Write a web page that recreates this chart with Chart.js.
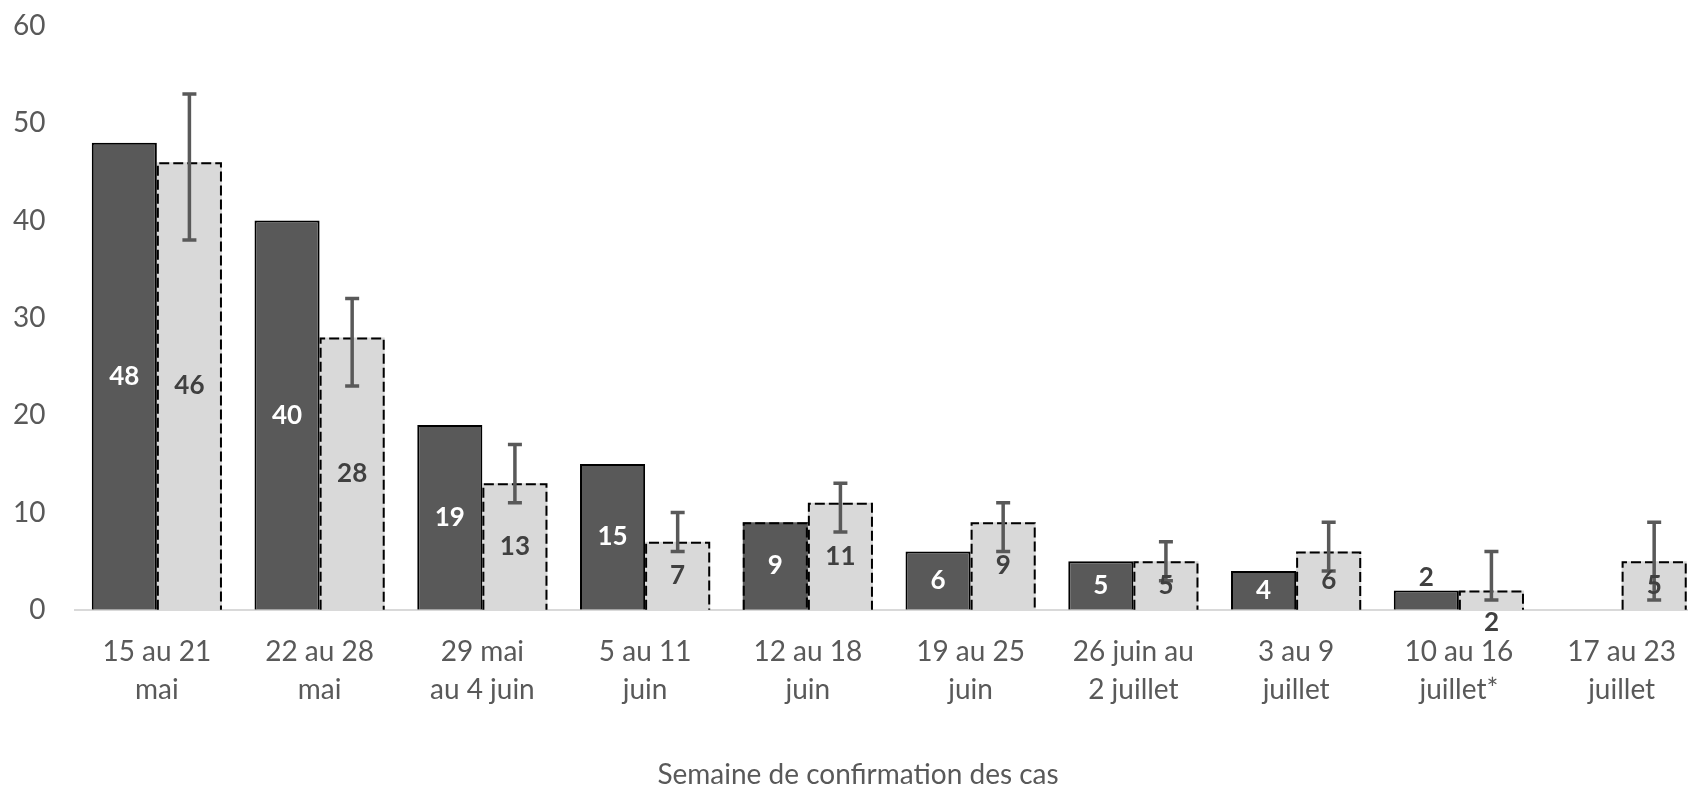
<!DOCTYPE html>
<html lang="fr">
<head>
<meta charset="utf-8">
<title>Semaine de confirmation des cas</title>
<script src="https://cdn.jsdelivr.net/npm/chart.js@4.4.1/dist/chart.umd.min.js"></script>
<style>
  html, body { margin: 0; padding: 0; background: #ffffff; overflow: hidden; }
  #wrap { position: relative; width: 1703px; height: 789px; }
</style>
</head>
<body>
<div id="wrap"><canvas id="chart1"></canvas></div>
<script>
// semaines (deux lignes par étiquette)
var semaines = [
  ['15 au 21', 'mai'],
  ['22 au 28', 'mai'],
  ['29 mai', 'au 4 juin'],
  ['5 au 11', 'juin'],
  ['12 au 18', 'juin'],
  ['19 au 25', 'juin'],
  ['26 juin au', '2 juillet'],
  ['3 au 9', 'juillet'],
  ['10 au 16', 'juillet*'],
  ['17 au 23', 'juillet']
];
var casConfirmes = [48, 40, 19, 15, 9, 6, 5, 4, 2, null];
var casEstimes   = [46, 28, 13, 7, 11, 9, 5, 6, 2, 5];
var estimesBas   = [38, 23, 11, 6, 8, 6, 3, 4, 1, 1];
var estimesHaut  = [53, 32, 17, 10, 13, 11, 7, 9, 6, 9];
var yTicks = [0, 10, 20, 30, 40, 50, 60];
var titreX = 'Semaine de confirmation des cas';

var gris = '#595959';
var police = 'Lato';

// contours pointillés, barres d'erreur et étiquettes
var barExtras = {
  id: 'barExtras',
  afterDatasetsDraw: function (chart) {
    var ctx = chart.ctx;
    var yScale = chart.scales.y;

    ctx.save();
    // contours pointillés
    chart.data.datasets.forEach(function (ds, di) {
      var meta = chart.getDatasetMeta(di);
      meta.data.forEach(function (bar, i) {
        if (ds.data[i] == null) return;
        var dashed = di === 1 || (ds.dashedPoints && ds.dashedPoints.indexOf(i) >= 0);
        if (!dashed) return;
        var p = bar.getProps(['x', 'y', 'base', 'width'], true);
        var l = p.x - p.width / 2 + 1, r = p.x + p.width / 2 - 1;
        var t = Math.min(p.y, p.base) + 1, b = Math.max(p.y, p.base);
        ctx.setLineDash([10, 4]);
        ctx.lineWidth = 2;
        ctx.strokeStyle = '#000000';
        ctx.beginPath();
        ctx.moveTo(l, b);
        ctx.lineTo(l, t);
        ctx.lineTo(r, t);
        ctx.lineTo(r, b);
        ctx.stroke();
      });
    });
    ctx.setLineDash([]);

    // barres d'erreur
    var meta1 = chart.getDatasetMeta(1);
    ctx.strokeStyle = gris;
    ctx.lineWidth = 3.5;
    meta1.data.forEach(function (bar, i) {
      var x = bar.x;
      var yl = yScale.getPixelForValue(estimesBas[i]);
      var yh = yScale.getPixelForValue(estimesHaut[i]);
      ctx.beginPath();
      ctx.moveTo(x, yl); ctx.lineTo(x, yh);
      ctx.moveTo(x - 7, yl); ctx.lineTo(x + 7, yl);
      ctx.moveTo(x - 7, yh); ctx.lineTo(x + 7, yh);
      ctx.stroke();
    });

    // étiquettes de données
    ctx.font = 'bold 26px ' + police;
    ctx.textAlign = 'center';
    ctx.textBaseline = 'middle';
    chart.data.datasets.forEach(function (ds, di) {
      var meta = chart.getDatasetMeta(di);
      meta.data.forEach(function (bar, i) {
        var v = ds.data[i];
        if (v == null) return;
        var p = bar.getProps(['x', 'y', 'base'], true);
        var h = Math.abs(p.base - p.y);
        var y = (p.y + p.base) / 2;
        var color = di === 0 ? '#ffffff' : '#404040';
        if (h < 26) {
          color = '#404040';
          y = di === 0 ? p.y - 13 : p.base + 13;
        }
        ctx.fillStyle = color;
        ctx.fillText(String(v), p.x, y);
      });
    });
    ctx.restore();
  }
};

// pas de marge supplémentaire autour des axes (padding compté une seule fois)
function tightAxis(scale) {
  scale.paddingTop = 0;
  scale.paddingBottom = 0;
  scale.paddingLeft = 0;
  scale.paddingRight = 0;
  var pad = scale.options.ticks.padding;
  if (scale.isHorizontal()) {
    scale.height -= pad;
  } else {
    scale.width -= pad;
  }
}

var ctx = document.getElementById('chart1').getContext('2d');
var myChart = new Chart(ctx, {
  type: 'bar',
  data: {
    labels: semaines,
    datasets: [
      {
        label: 'Cas confirmés',
        data: casConfirmes,
        backgroundColor: '#595959',
        borderColor: '#000000',
        borderWidth: function (c) { return c.dataIndex === 4 ? 0 : 2; },
        dashedPoints: [4],
        categoryPercentage: 0.8,
        barPercentage: 1.0
      },
      {
        label: 'Cas estimés',
        data: casEstimes,
        backgroundColor: '#d9d9d9',
        borderWidth: 0,
        categoryPercentage: 0.8,
        barPercentage: 1.0
      }
    ]
  },
  options: {
    responsive: true,
    maintainAspectRatio: false,
    animation: false,
    layout: { padding: { left: 13, top: 26, right: 0, bottom: 0 } },
    plugins: {
      legend: { display: false },
      tooltip: { enabled: false },
      title: {
        display: true,
        position: 'bottom',
        text: titreX,
        color: gris,
        font: { family: police, size: 28, weight: 'normal', lineHeight: 1 },
        padding: { top: 52, bottom: 0 }
      }
    },
    scales: {
      x: {
        afterFit: tightAxis,
        grid: { display: false, drawTicks: false },
        border: { display: true, color: '#d9d9d9', width: 2 },
        ticks: {
          color: gris,
          font: { family: police, size: 28, lineHeight: 1.36 },
          padding: 23,
          maxRotation: 0,
          autoSkip: false
        }
      },
      y: {
        afterFit: tightAxis,
        min: yTicks[0],
        max: yTicks[yTicks.length - 1],
        grid: { display: false, drawTicks: false },
        border: { display: false },
        ticks: {
          stepSize: yTicks[1] - yTicks[0],
          color: gris,
          padding: 30,
          font: { family: police, size: 28 }
        }
      }
    }
  },
  plugins: [barExtras]
});
</script>
</body>
</html>
